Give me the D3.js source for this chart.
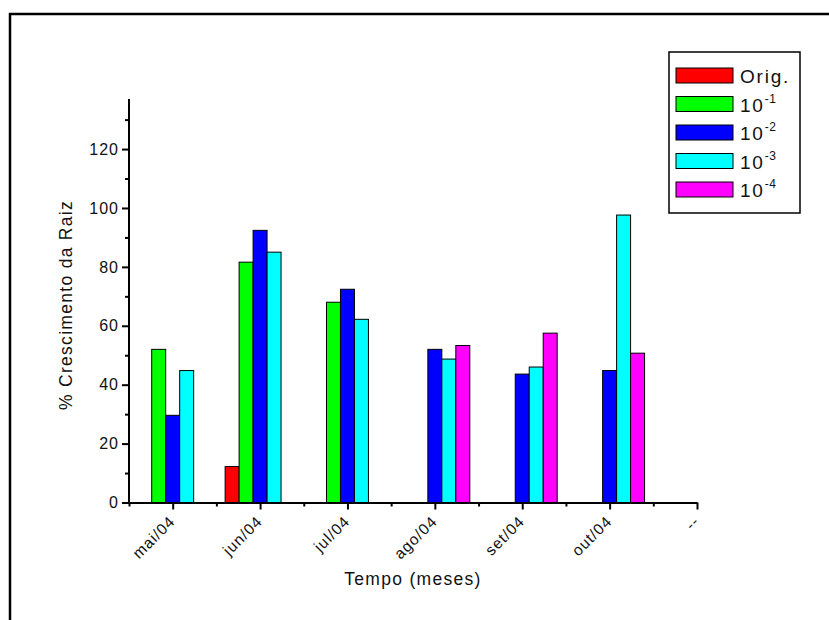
<!DOCTYPE html>
<html>
<head>
<meta charset="utf-8">
<script src="https://cdn.jsdelivr.net/npm/d3@7"></script>
<style>
  body { margin: 0; background: #fff; }
  text { font-family: "Liberation Sans", Arial, sans-serif; fill: #111; }
</style>
</head>
<body>
<svg width="829" height="620"></svg>
<script>
// months on the x axis (last one is an empty "--" slot)
const categories = ["mai/04", "jun/04", "jul/04", "ago/04", "set/04", "out/04", "--"];

// series names (legend) : base text + superscript
const seriesNames = ["Orig.", "10-1", "10-2", "10-3", "10-4"];
const seriesColors = ["#ff0000", "#00ff00", "#0000ff", "#00ffff", "#ff00ff"];

// % root growth (null = no bar)
const orig = [null, 12.2, null, null, null, null, null];
const dil1 = [52.0, 81.6, 68.0, null, null, null, null];
const dil2 = [29.6, 92.4, 72.4, 52.0, 43.6, 44.8, null];
const dil3 = [44.8, 85.0, 62.2, 48.7, 46.0, 97.6, null];
const dil4 = [null, null, null, 53.3, 57.5, 50.7, null];
const allSeries = [orig, dil1, dil2, dil3, dil4];

const yTicks = [0, 20, 40, 60, 80, 100, 120];
const yMinor = [10, 30, 50, 70, 90, 110, 130];

const svg = d3.select("svg");

// outer frame (cut off at right and bottom)
svg.append("rect")
  .attr("x", 10).attr("y", 14)
  .attr("width", 900).attr("height", 700)
  .style("fill", "none")
  .style("stroke", "#000")
  .style("stroke-width", 2.5);

const x = d3.scaleLinear().domain([-0.5, 6]).range([129, 697]);
const y = d3.scaleLinear().domain([0, 137]).range([502.5, 99]);

// inner band for the 5 series within a month
const step = x(1) - x(0);
const inner = d3.scaleBand()
  .domain(d3.range(seriesNames.length))
  .range([-step * 0.4, step * 0.4]);

// bars
allSeries.forEach(function (vals, si) {
  svg.append("g").selectAll("rect")
    .data(vals.map((v, i) => ({ v: v, i: i })).filter(d => d.v !== null))
    .join("rect")
    .attr("x", d => x(d.i) + inner(si))
    .attr("y", d => y(d.v))
    .attr("width", inner.bandwidth())
    .attr("height", d => y(0) - y(d.v))
    .style("fill", seriesColors[si])
    .style("stroke", "#000")
    .style("stroke-width", 1);
});

// y axis
const yAxis = svg.append("g")
  .attr("transform", "translate(" + x(-0.5) + ",0)")
  .call(d3.axisLeft(y).tickValues(yTicks).tickSize(7).tickPadding(3).tickSizeOuter(0));
svg.append("g")
  .attr("transform", "translate(" + x(-0.5) + ",0)")
  .call(d3.axisLeft(y).tickValues(yMinor).tickSize(4).tickFormat("").tickSizeOuter(0))
  .select(".domain").remove();
yAxis.select(".domain").attr("d", "M0," + y(0) + "V" + y(137));
yAxis.selectAll("text")
  .style("font-size", "16px")
  .style("letter-spacing", "1px")
  .attr("font-family", null);

// x axis
const xAxis = svg.append("g")
  .attr("transform", "translate(0," + y(0) + ")")
  .call(d3.axisBottom(x).tickValues(d3.range(categories.length))
    .tickFormat(i => categories[i]).tickSize(7).tickSizeOuter(0));
svg.append("g")
  .attr("transform", "translate(0," + y(0) + ")")
  .call(d3.axisBottom(x).tickValues(d3.range(-0.5, 6, 1)).tickSize(4).tickFormat("").tickSizeOuter(0))
  .select(".domain").remove();
xAxis.selectAll("text")
  .attr("font-family", null)
  .style("font-size", "15.5px")
  .style("letter-spacing", "1px")
  .attr("text-anchor", "end")
  .attr("y", 0)
  .attr("dy", "0.35em")
  .attr("transform", "translate(-1,16) rotate(-45)");

svg.selectAll(".domain, .tick line")
  .style("stroke", "#000")
  .style("stroke-width", 2);

// axis titles
svg.append("text")
  .attr("transform", "translate(72,305) rotate(-90)")
  .attr("text-anchor", "middle")
  .style("font-size", "17.5px")
  .style("letter-spacing", "1.3px")
  .text("% Crescimento da Raiz");

svg.append("text")
  .attr("x", 413).attr("y", 585)
  .attr("text-anchor", "middle")
  .style("font-size", "17.5px")
  .style("letter-spacing", "1.3px")
  .text("Tempo (meses)");

// legend
const legend = svg.append("g");
legend.append("rect")
  .attr("x", 669).attr("y", 52)
  .attr("width", 131).attr("height", 161)
  .style("fill", "#fff")
  .style("stroke", "#000")
  .style("stroke-width", 1.5);

seriesNames.forEach(function (name, i) {
  const yy = 68 + i * 28.5;
  legend.append("rect")
    .attr("x", 676).attr("y", yy)
    .attr("width", 57).attr("height", 15)
    .style("fill", seriesColors[i])
    .style("stroke", "#000")
    .style("stroke-width", 1);
  const t = legend.append("text")
    .attr("x", 740).attr("y", yy + 15)
    .style("font-size", "19px")
    .style("letter-spacing", "1.8px");
  if (i === 0) {
    t.text(name);
  } else {
    const parts = name.split("-");
    t.append("tspan").text(parts[0]);
    t.append("tspan")
      .attr("dy", -9)
      .style("font-size", "12px")
      .style("letter-spacing", "0.5px")
      .text("-" + parts[1]);
  }
});
</script>
</body>
</html>
